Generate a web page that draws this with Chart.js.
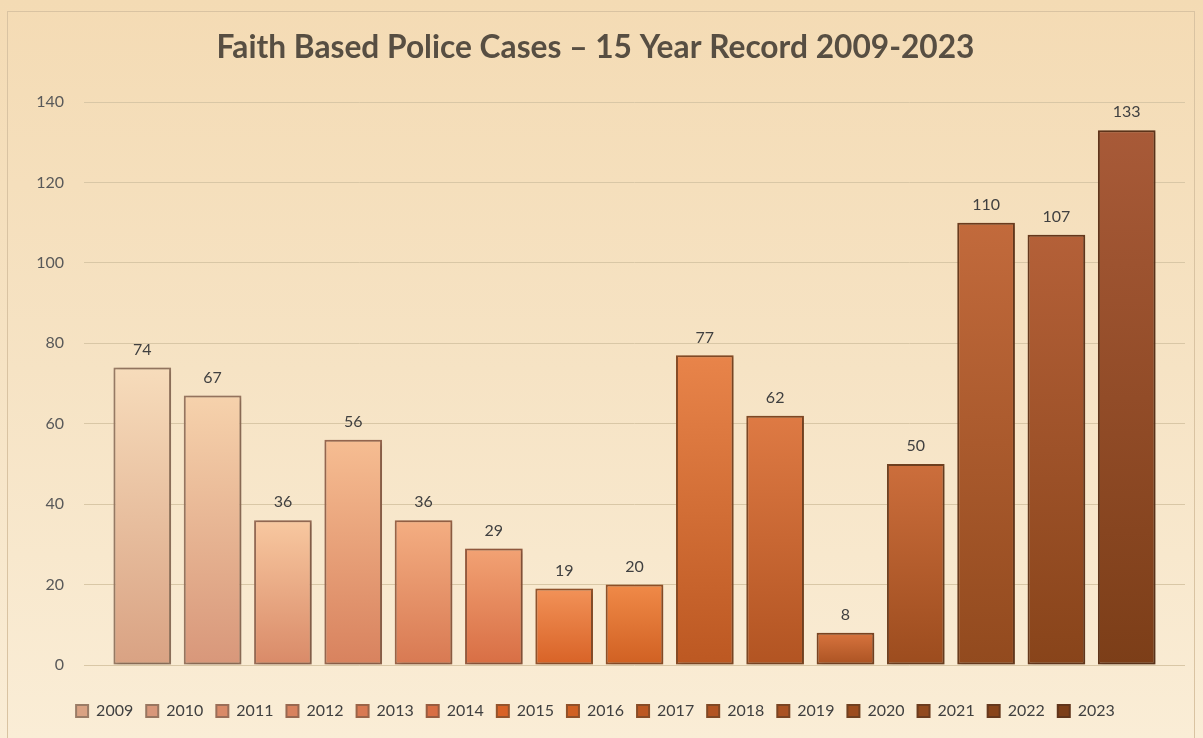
<!DOCTYPE html>
<html>
<head>
<meta charset="utf-8">
<script src="https://cdn.jsdelivr.net/npm/chart.js@4.4.0/dist/chart.umd.min.js"></script>
<style>
  html, body { margin: 0; padding: 0; }
  body {
    width: 1203px; height: 738px; overflow: hidden;
    background: linear-gradient(to bottom, #f4dbb4 0%, #f6e3c4 50%, #faedd6 100%);
    position: relative;
  }
  #frame {
    position: absolute; left: 7px; top: 11px; width: 1188px; height: 740px;
    border: 1px solid #d9c3a2; box-sizing: border-box;
  }
  #wrap { position: absolute; left: 0; top: 0; width: 1203px; height: 738px; }
</style>
</head>
<body>
<div id="frame"></div>
<div id="wrap"><canvas id="chart" width="1203" height="738"></canvas></div>
<script>
const titleText = "Faith Based Police Cases \u2013 15 Year Record 2009-2023";
const years = ["2009", "2010", "2011", "2012", "2013", "2014", "2015", "2016",
               "2017", "2018", "2019", "2020", "2021", "2022", "2023"];
const cases = [74, 67, 36, 56, 36, 29, 19, 20, 77, 62, 8, 50, 110, 107, 133];
const yTicks = [0, 20, 40, 60, 80, 100, 120, 140];

// top / bottom shades of each bar
const topColors = ["#f7dcbb", "#f6d2ac", "#f8c8a0", "#f6bd92", "#f4ae82", "#f2a274",
                   "#f29258", "#f08a48", "#e8844a", "#de7a44", "#d8743e", "#cc6e3c",
                   "#c26a3c", "#b46038", "#a85a38"];
const bottomColors = ["#d9a283", "#d8977a", "#d98a68", "#d8825e", "#d87952", "#d86e44",
                      "#d86226", "#d06022", "#bc5822", "#b25422", "#aa5222", "#9c4c1e",
                      "#924a1e", "#88441a", "#7c3e18"];
const legendColors = ["#e3b79b", "#e3ad92", "#e4a286", "#e0967a", "#e18d6c", "#df8058",
                      "#e0703a", "#dc6c30", "#cc6a34", "#c26430", "#b85c2c", "#a8562a",
                      "#9a5026", "#8c4822", "#7c3e1e"];
const borderColors = ["#9a7c66", "#987660", "#9a6e58", "#986850", "#9a6448", "#985c40",
                      "#94542c", "#905028", "#884c26", "#804824", "#7a4422", "#704020",
                      "#6c3c1e", "#66381c", "#60341a"];

function barGradient(i) {
  return function (ctx) {
    const chart = ctx.chart;
    if (ctx.type !== "data" || !chart.chartArea || !chart.scales.y) return legendColors[i];
    const y = chart.scales.y;
    const top = y.getPixelForValue(cases[i]);
    const bottom = y.getPixelForValue(0);
    const g = chart.ctx.createLinearGradient(0, top, 0, bottom);
    g.addColorStop(0, topColors[i]);
    g.addColorStop(1, bottomColors[i]);
    return g;
  };
}

const datasets = years.map((yr, i) => ({
  label: yr,
  data: [cases[i]],
  backgroundColor: barGradient(i),
  borderColor: borderColors[i],
  borderWidth: 2,
  borderSkipped: false,
  categoryPercentage: 0.958,
  barPercentage: 0.82
}));

const shadowPlugin = {
  id: "barShadow",
  beforeDatasetsDraw(chart) {
    const c = chart.ctx;
    c.save();
    c.shadowColor = "rgba(60,40,20,0.35)";
    c.shadowBlur = 5;
    c.shadowOffsetX = 2;
    c.shadowOffsetY = 1;
  },
  afterDatasetsDraw(chart) {
    chart.ctx.restore();
  }
};

const valueLabels = {
  id: "valueLabels",
  afterDatasetsDraw(chart) {
    const c = chart.ctx;
    c.save();
    c.font = "16px Lato, 'Open Sans', sans-serif";
    c.fillStyle = "#404040";
    c.textAlign = "center";
    c.textBaseline = "bottom";
    chart.data.datasets.forEach((ds, i) => {
      const bar = chart.getDatasetMeta(i).data[0];
      c.fillText(String(ds.data[0]), bar.x, bar.y - 10);
    });
    c.restore();
  }
};

new Chart(document.getElementById("chart"), {
  type: "bar",
  data: { labels: [""], datasets: datasets },
  plugins: [shadowPlugin, valueLabels],
  options: {
    responsive: false,
    animation: false,
    devicePixelRatio: 1,
    layout: { padding: { left: 6, right: 18, top: 14, bottom: 9 } },
    plugins: {
      title: {
        display: true,
        text: titleText,
        color: "#574e42",
        font: { family: "Lato, 'Open Sans', sans-serif", size: 31.7, weight: "bold" },
        padding: { top: 15, bottom: 35 }
      },
      legend: {
        position: "bottom",
        labels: {
          color: "#404040",
          font: { family: "Lato, 'Open Sans', sans-serif", size: 16 },
          boxWidth: 12,
          boxHeight: 12,
          padding: 13
        }
      },
      tooltip: { enabled: false }
    },
    scales: {
      x: {
        afterFit(axis) { axis.height = 25; },
        grid: { display: false },
        border: { display: false },
        ticks: { display: false }
      },
      y: {
        min: 0,
        max: 140,
        afterBuildTicks(axis) { axis.ticks = yTicks.map(v => ({ value: v })); },
        afterFit(axis) { axis.width = 78; },
        grid: { color: "#d9c7a6", lineWidth: 1, drawTicks: false },
        border: { display: false },
        ticks: {
          color: "#595959",
          padding: 20,
          font: { family: "Lato, 'Open Sans', sans-serif", size: 16 }
        }
      }
    }
  }
});
</script>
</body>
</html>
